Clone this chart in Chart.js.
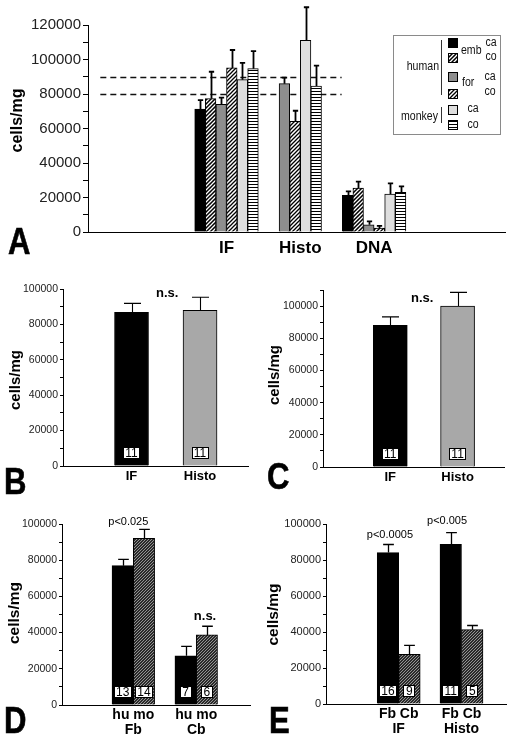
<!DOCTYPE html>
<html>
<head>
<meta charset="utf-8">
<script src="https://cdn.jsdelivr.net/npm/chart.js@4.4.1/dist/chart.umd.min.js"></script>
<style>
    html, body { margin: 0; padding: 0; background: #fff; }
    #fig { position: relative; width: 512px; height: 743px; overflow: hidden; font-family: "Liberation Sans", Arial, sans-serif; }
    .panel { position: absolute; }
    .panel canvas { display: block; }
    .letter { position: absolute; font-weight: bold; font-size: 37px; line-height: 1; transform: scaleX(0.84); transform-origin: left top; color: #000; -webkit-text-stroke: 0.6px #000; }
</style>
</head>
<body>
<div id="fig">
    <div class="panel" style="left:0;top:0"><canvas id="chartA" width="512" height="260"></canvas></div>
    <div class="panel" style="left:0;top:260px"><canvas id="chartB" width="256" height="230"></canvas></div>
    <div class="panel" style="left:256px;top:260px"><canvas id="chartC" width="256" height="230"></canvas></div>
    <div class="panel" style="left:0;top:490px"><canvas id="chartD" width="256" height="253"></canvas></div>
    <div class="panel" style="left:256px;top:490px"><canvas id="chartE" width="256" height="253"></canvas></div>
    <div class="letter" style="left:8px;top:223px">A</div>
    <div class="letter" style="left:4px;top:463px">B</div>
    <div class="letter" style="left:267px;top:458px">C</div>
    <div class="letter" style="left:4px;top:702px">D</div>
    <div class="letter" style="left:269px;top:702px">E</div>
</div>
<script>
// ---- Panel A: cells/mg per method, human emb / for, monkey (ca / co) ----
const groupsA = ['IF', 'Histo', 'DNA'];
const humanEmbCa = [71300, null, 21300];
const humanEmbCo = [77300, null, 25500];
const humanForCa = [74000, 86000, 4200];
const humanForCo = [95100, 64200, 2300];
const monkeyCa = [88300, 111100, 22000];
const monkeyCo = [94700, 84600, 23000];
const humanEmbCaSd = [5200, null, 2300];
const humanEmbCoSd = [15600, null, 3700];
const humanForCaSd = [3900, 3500, 2000];
const humanForCoSd = [10400, 6100, 1200];
const monkeyCaSd = [9700, 19200, 6200];
const monkeyCoSd = [10200, 11800, 3500];
const refLinesA = [80000, 90000];
const yLabelsA = [0, 20000, 40000, 60000, 80000, 100000, 120000];

// ---- Panel B ----
const groupsB = ['IF', 'Histo'];
const valuesB = [86800, 87900];
const sdB = [5100, 7400];
const countsB = [11, 11];
const yLabelsB = [0, 20000, 40000, 60000, 80000, 100000];

// ---- Panel C ----
const groupsC = ['IF', 'Histo'];
const valuesC = [88000, 100000];
const sdC = [5300, 8500];
const countsC = [11, 11];
const yLabelsC = [0, 20000, 40000, 60000, 80000, 100000];

// ---- Panel D ----
const groupsD = [['hu mo', 'Fb'], ['hu mo', 'Cb']];
const humanD = [77000, 27200];
const humanSdD = [3500, 5200];
const humanCountsD = [13, 7];
const monkeyD = [92100, 38700];
const monkeySdD = [4900, 4800];
const monkeyCountsD = [14, 6];
const yLabelsD = [0, 20000, 40000, 60000, 80000, 100000];

// ---- Panel E ----
const groupsE = [['Fb Cb', 'IF'], ['Fb Cb', 'Histo']];
const fbE = [84100, 88700];
const fbSdE = [4500, 6500];
const fbCountsE = [16, 11];
const cbE = [27600, 41300];
const cbSdE = [5000, 2300];
const cbCountsE = [9, 5];
const yLabelsE = [0, 20000, 40000, 60000, 80000, 100000];

const FONT = '"Liberation Sans", Arial, sans-serif';

// petits motifs hachurés pour les barres
function hatch(bg, fg, step, lw, dir) {
    const c = document.createElement('canvas');
    c.width = step; c.height = step;
    const g = c.getContext('2d');
    g.fillStyle = bg;
    g.fillRect(0, 0, step, step);
    g.strokeStyle = fg;
    g.lineWidth = lw;
    g.beginPath();
    if (dir === 'h') {
        g.moveTo(0, step / 2); g.lineTo(step, step / 2);
    } else {
        g.moveTo(-1, 1); g.lineTo(1, -1);
        g.moveTo(0, step); g.lineTo(step, 0);
        g.moveTo(step - 1, step + 1); g.lineTo(step + 1, step - 1);
    }
    g.stroke();
    return g.createPattern(c, 'repeat');
}

const fills = {
    embCa: '#000',
    embCo: hatch('#000', '#fff', 4, 1.3, 'd'),
    forCa: '#8e8e8e',
    forCo: hatch('#fff', '#000', 4, 1.3, 'd'),
    monCa: '#dedede',
    monCo: hatch('#fff', '#000', 3, 1, 'h'),
    gray: '#a8a8a8',
    dark: hatch('#2a2a2a', '#a0a0a0', 3, 0.9, 'd')
};

// error bars, n boxes, notes, titles, ref lines, legend
const decorPlugin = {
    id: 'decor',
    beforeDatasetsDraw(chart, args, opts) {
        if (!opts.refLines) return;
        const { ctx } = chart;
        const xs = chart.scales.x, ys = chart.scales.y;
        ctx.save();
        ctx.strokeStyle = '#111';
        ctx.lineWidth = 1.3;
        ctx.setLineDash([6, 4]);
        opts.refLines.forEach(v => {
            const py = Math.round(ys.getPixelForValue(v)) + 0.5;
            ctx.beginPath();
            ctx.moveTo(xs.getPixelForValue(opts.refFrom), py);
            ctx.lineTo(xs.getPixelForValue(opts.refTo), py);
            ctx.stroke();
        });
        ctx.restore();
    },
    afterDatasetsDraw(chart, args, opts) {
        const { ctx } = chart;
        const xs = chart.scales.x, ys = chart.scales.y;
        const base = ys.getPixelForValue(0);
        ctx.save();
        chart.data.datasets.forEach((ds, di) => {
            const meta = chart.getDatasetMeta(di);
            meta.data.forEach((bar, i) => {
                const v = ds.data[i];
                if (v == null) return;
                const top = ys.getPixelForValue(v + ds.sd[i]);
                const half = bar.width / 4;
                const x = Math.round(bar.x) + 0.5;
                ctx.strokeStyle = '#000';
                ctx.lineWidth = opts.errWidth;
                ctx.setLineDash([]);
                ctx.beginPath();
                ctx.moveTo(x, bar.y);
                ctx.lineTo(x, top);
                ctx.moveTo(x - half, top);
                ctx.lineTo(x + half, top);
                ctx.stroke();
                if (ds.counts) {
                    const txt = String(ds.counts[i]);
                    ctx.font = '12px ' + FONT;
                    const w = Math.round(ctx.measureText(txt).width + 5);
                    const h = 12;
                    const cy = Math.round(base - 13);
                    const bx = Math.round(bar.x - w / 2);
                    ctx.fillStyle = '#fff';
                    ctx.fillRect(bx, cy - h / 2, w, h);
                    ctx.lineWidth = 1;
                    ctx.strokeRect(bx + 0.5, cy - h / 2 + 0.5, w - 1, h - 1);
                    ctx.fillStyle = '#000';
                    ctx.textAlign = 'center';
                    ctx.textBaseline = 'middle';
                    ctx.fillText(txt, bar.x, cy + 0.5);
                }
            });
        });
        (opts.notes || []).forEach(n => {
            ctx.font = (n.bold ? 'bold ' : '') + n.size + 'px ' + FONT;
            ctx.fillStyle = '#000';
            ctx.textAlign = 'center';
            ctx.textBaseline = 'middle';
            ctx.fillText(n.text, xs.getPixelForValue(n.x), ys.getPixelForValue(n.y));
        });
        ctx.restore();
    },
    afterDraw(chart, args, opts) {
        const { ctx } = chart;
        if (opts.title) {
            const t = opts.title;
            ctx.save();
            ctx.translate(t.x, t.y);
            ctx.rotate(-Math.PI / 2);
            ctx.font = 'bold ' + t.size + 'px ' + FONT;
            ctx.fillStyle = '#000';
            ctx.textAlign = 'center';
            ctx.textBaseline = 'middle';
            ctx.fillText('cells/mg', 0, 0);
            ctx.restore();
        }
        if (opts.legend) drawLegendA(ctx);
    }
};

function legendText(ctx, txt, x, y, align) {
    ctx.save();
    ctx.translate(x, y);
    ctx.scale(0.88, 1);
    ctx.textAlign = align;
    ctx.textBaseline = 'middle';
    ctx.fillText(txt, 0, 0);
    ctx.restore();
}

function drawLegendA(ctx) {
    ctx.save();
    ctx.strokeStyle = '#8a8a8a';
    ctx.lineWidth = 1;
    ctx.strokeRect(393.5, 35.5, 107, 99);
    ctx.strokeStyle = '#333';
    ctx.beginPath();
    ctx.moveTo(441.5, 40); ctx.lineTo(441.5, 95);
    ctx.moveTo(441.5, 107); ctx.lineTo(441.5, 123);
    ctx.stroke();
    const sw = [
        [fills.embCa, 38], [fills.embCo, 53], [fills.forCa, 72],
        [fills.forCo, 89], [fills.monCa, 105], [fills.monCo, 120]
    ];
    sw.forEach(([f, y]) => {
        ctx.fillStyle = f;
        ctx.fillRect(448, y, 10, 10);
        ctx.strokeStyle = '#000';
        ctx.strokeRect(448.5, y + 0.5, 9, 9);
    });
    ctx.fillStyle = '#111';
    ctx.font = '12px ' + FONT;
    legendText(ctx, 'human', 439, 67, 'right');
    legendText(ctx, 'monkey', 438, 117, 'right');
    legendText(ctx, 'emb', 461, 51, 'left');
    legendText(ctx, 'for', 462, 83, 'left');
    legendText(ctx, 'ca', 491, 43, 'center');
    legendText(ctx, 'co', 491, 57, 'center');
    legendText(ctx, 'ca', 490, 77, 'center');
    legendText(ctx, 'co', 490, 92, 'center');
    legendText(ctx, 'ca', 473, 109, 'center');
    legendText(ctx, 'co', 473, 125, 'center');
    ctx.restore();
}

function panelChart(canvasId, p) {
    const canvas = document.getElementById(canvasId);
    const yLabels = p.yLabels;
    return new Chart(canvas, {
        type: 'bar',
        data: { labels: p.groups.map((g, i) => i), datasets: p.datasets },
        options: {
            responsive: false,
            animation: false,
            layout: {
                autoPadding: false,
                padding: { left: 0, top: p.area.top, right: canvas.width - p.area.right, bottom: 0 }
            },
            plugins: { legend: { display: false }, tooltip: { enabled: false }, decor: p.decor },
            datasets: { bar: { barThickness: p.barWidth, borderColor: '#000', borderWidth: 1, skipNull: true } },
            scales: {
                x: {
                    type: 'linear', min: p.xMin, max: p.xMax, offset: false,
                    afterBuildTicks: s => { s.ticks = p.groups.map((g, i) => ({ value: i })); },
                    afterFit: s => { s.height = canvas.height - p.area.bottom; },
                    grid: { display: true, drawOnChartArea: false, drawTicks: false },
                    border: { display: true, color: '#000', width: 1 },
                    ticks: {
                        callback: v => p.groups[v], autoSkip: false, maxRotation: 0,
                        font: p.xFont, color: '#000', padding: p.xPad
                    }
                },
                y: {
                    min: 0, max: p.yMax,
                    afterBuildTicks: s => {
                        const t = [];
                        for (let v = 0; v <= p.yMax; v += 10000) t.push({ value: v });
                        s.ticks = t;
                    },
                    afterFit: s => { s.width = p.area.left; },
                    grid: { drawOnChartArea: false, drawTicks: true, tickLength: p.tickLen, color: '#000' },
                    border: { display: true, color: '#000', width: 1 },
                    ticks: {
                        autoSkip: false,
                        callback: v => yLabels.includes(v) ? String(v) : '',
                        font: { family: FONT, size: p.yFontSize }, color: '#222', padding: 2
                    }
                }
            }
        },
        plugins: [decorPlugin]
    });
}

// Panel A
panelChart('chartA', {
    groups: groupsA,
    area: { left: 88, top: 25, right: 505, bottom: 232 },
    xMin: -1.877, xMax: 3.774, yMax: 120000, yLabels: yLabelsA,
    barWidth: 10.6, tickLen: 5, yFontSize: 15,
    xFont: { family: FONT, size: 17, weight: 'bold' }, xPad: 6,
    datasets: [
        { label: 'human emb ca', data: humanEmbCa, sd: humanEmbCaSd, backgroundColor: fills.embCa },
        { label: 'human emb co', data: humanEmbCo, sd: humanEmbCoSd, backgroundColor: fills.embCo },
        { label: 'human for ca', data: humanForCa, sd: humanForCaSd, backgroundColor: fills.forCa },
        { label: 'human for co', data: humanForCo, sd: humanForCoSd, backgroundColor: fills.forCo },
        { label: 'monkey ca', data: monkeyCa, sd: monkeyCaSd, backgroundColor: fills.monCa },
        { label: 'monkey co', data: monkeyCo, sd: monkeyCoSd, backgroundColor: fills.monCo }
    ],
    decor: {
        errWidth: 1.8, refLines: refLinesA, refFrom: -1.71, refTo: 1.56,
        title: { x: 17.5, y: 120.5, size: 16 }, legend: true
    }
});

// Panel B
panelChart('chartB', {
    groups: groupsB,
    area: { left: 63, top: 29, right: 248, bottom: 206 },
    xMin: -1.0, xMax: 1.7, yMax: 100000, yLabels: yLabelsB,
    barWidth: 34, tickLen: 3, yFontSize: 10.5,
    xFont: { family: FONT, size: 13, weight: 'bold' }, xPad: 3,
    datasets: [
        { label: 'B', data: valuesB, sd: sdB, counts: countsB, backgroundColor: ['#000', fills.gray] }
    ],
    decor: {
        errWidth: 1.1, title: { x: 16, y: 120, size: 15 },
        notes: [{ text: 'n.s.', x: 0.52, y: 97700, size: 13, bold: true }]
    }
});

// Panel C
panelChart('chartC', {
    groups: groupsC,
    area: { left: 67, top: 30, right: 248, bottom: 207 },
    xMin: -1.0, xMax: 1.69, yMax: 110000, yLabels: yLabelsC,
    barWidth: 34, tickLen: 3, yFontSize: 10.5,
    xFont: { family: FONT, size: 13, weight: 'bold' }, xPad: 3,
    datasets: [
        { label: 'C', data: valuesC, sd: sdC, counts: countsC, backgroundColor: ['#000', fills.gray] }
    ],
    decor: {
        errWidth: 1.1, title: { x: 18.5, y: 115, size: 15 },
        notes: [{ text: 'n.s.', x: 0.475, y: 104800, size: 13, bold: true }]
    }
});

// Panel D
panelChart('chartD', {
    groups: groupsD,
    area: { left: 62, top: 34, right: 250, bottom: 215 },
    xMin: -1.134, xMax: 1.855, yMax: 100000, yLabels: yLabelsD,
    barWidth: 21.3, tickLen: 3, yFontSize: 10.5,
    xFont: { family: FONT, size: 14, weight: 'bold', lineHeight: 1.12 }, xPad: 2,
    datasets: [
        { label: 'hu', data: humanD, sd: humanSdD, counts: humanCountsD, backgroundColor: '#000' },
        { label: 'mo', data: monkeyD, sd: monkeySdD, counts: monkeyCountsD, backgroundColor: fills.dark }
    ],
    decor: {
        errWidth: 1.3, title: { x: 14.7, y: 123, size: 15.5 },
        notes: [
            { text: 'p<0.025', x: -0.08, y: 101300, size: 11, bold: false },
            { text: 'n.s.', x: 1.14, y: 49200, size: 13, bold: true }
        ]
    }
});

// Panel E
panelChart('chartE', {
    groups: groupsE,
    area: { left: 70, top: 34, right: 250, bottom: 214 },
    xMin: -1.158, xMax: 1.709, yMax: 100000, yLabels: yLabelsE,
    barWidth: 21.5, tickLen: 3, yFontSize: 11,
    xFont: { family: FONT, size: 14, weight: 'bold', lineHeight: 1.12 }, xPad: 2,
    datasets: [
        { label: 'Fb', data: fbE, sd: fbSdE, counts: fbCountsE, backgroundColor: '#000' },
        { label: 'Cb', data: cbE, sd: cbSdE, counts: cbCountsE, backgroundColor: fills.dark }
    ],
    decor: {
        errWidth: 1.3, title: { x: 18, y: 124.5, size: 15.5 },
        notes: [
            { text: 'p<0.0005', x: -0.14, y: 93700, size: 11, bold: false },
            { text: 'p<0.005', x: 0.77, y: 101700, size: 11, bold: false }
        ]
    }
});
</script>
</body>
</html>
